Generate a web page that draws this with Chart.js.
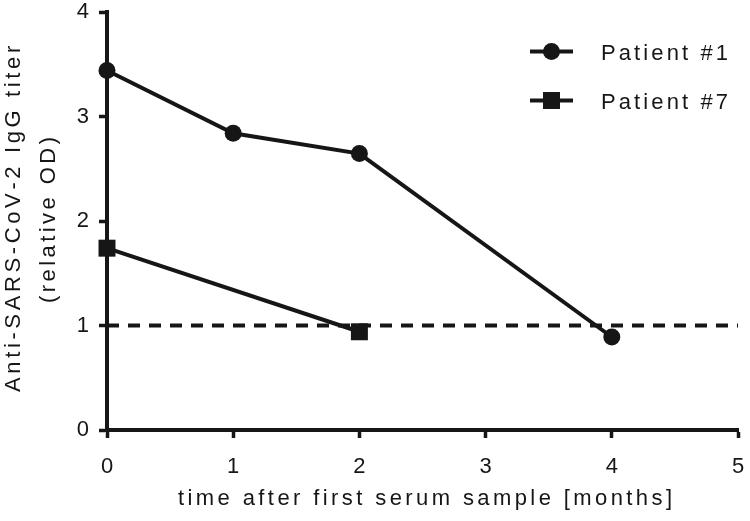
<!DOCTYPE html>
<html>
<head>
<meta charset="utf-8">
<script src="https://cdn.jsdelivr.net/npm/chart.js@4.4.0/dist/chart.umd.min.js"></script>
<style>
  html, body { margin: 0; padding: 0; background: #fff; }
  #wrap { width: 750px; height: 521px; }
</style>
</head>
<body>
<div id="wrap"><canvas id="titerChart"></canvas></div>
<script>
// Data
const months1 = [0, 1, 2, 4];
const titer1 = [3.44, 2.84, 2.645, 0.89];
const months7 = [0, 2];
const titer7 = [1.74, 0.94];
const cutoffMonths = [0, 5];
const cutoffTiter = [1, 1];
const xTicks = [0, 1, 2, 3, 4, 5];
const yTicks = [0, 1, 2, 3, 4];
const seriesNames = ["Patient #1", "Patient #7"];
const xTitle = "time after first serum sample [months]";
const yTitle = ["Anti-SARS-CoV-2 IgG titer", "(relative OD)"];

const ink = "#161616";
const family = "'Liberation Sans', Arial, sans-serif";

function toPoints(xs, ys) {
  return xs.map((x, i) => ({ x: x, y: ys[i] }));
}

// draw text char by char, spreading it over a given width (the figure is letter-spaced)
function spacedText(ctx, text, left, y, width) {
  const natural = ctx.measureText(text).width;
  const gap = (width - natural) / (text.length - 1);
  let x = left;
  for (const ch of text) {
    ctx.fillText(ch, x, y);
    x += ctx.measureText(ch).width + gap;
  }
}

// axis titles + legend, drawn by hand because of the letter spacing
const decorations = {
  id: "decorations",
  afterDraw(chart) {
    const ctx = chart.ctx;
    ctx.save();
    ctx.fillStyle = ink;
    ctx.strokeStyle = ink;
    ctx.textBaseline = "alphabetic";
    ctx.textAlign = "left";
    ctx.font = "22px " + family;

    // x title
    spacedText(ctx, xTitle, 178, 505, 494);

    // y title, two rotated lines
    ctx.save();
    ctx.translate(20, 220);
    ctx.rotate(-Math.PI / 2);
    spacedText(ctx, yTitle[0], -172, 0, 345);
    ctx.restore();
    ctx.save();
    ctx.translate(55, 220);
    ctx.rotate(-Math.PI / 2);
    spacedText(ctx, yTitle[1], -83, 0, 166);
    ctx.restore();

    // legend
    const rows = [51.5, 100.5];
    chart.data.datasets.slice(0, 2).forEach((ds, i) => {
      const y = rows[i];
      ctx.lineWidth = 4;
      ctx.beginPath();
      ctx.moveTo(530, y);
      ctx.lineTo(573, y);
      ctx.stroke();
      ctx.beginPath();
      if (ds.pointStyle === "circle") {
        ctx.arc(551.5, y, ds.pointRadius, 0, Math.PI * 2);
        ctx.fill();
      } else {
        const half = ds.pointRadius * Math.SQRT1_2;
        ctx.fillRect(551.5 - half, y - half, half * 2, half * 2);
      }
      spacedText(ctx, seriesNames[i], 601, y + 8, 127);
    });
    ctx.restore();
  },
};

const tickGrid = {
  drawOnChartArea: false,
  drawTicks: true,
  tickLength: 8,
  tickWidth: 3.5,
  tickColor: ink,
};

const config = {
  type: "line",
  data: {
    datasets: [
      {
        label: seriesNames[0],
        data: toPoints(months1, titer1),
        borderColor: ink,
        borderWidth: 4,
        pointStyle: "circle",
        pointRadius: 8.5,
        pointBackgroundColor: ink,
        pointBorderWidth: 0,
        clip: false,
      },
      {
        label: seriesNames[1],
        data: toPoints(months7, titer7),
        borderColor: ink,
        borderWidth: 4,
        pointStyle: "rect",
        pointRadius: 12,
        pointBackgroundColor: ink,
        pointBorderWidth: 0,
        clip: false,
      },
      {
        label: "cutoff",
        data: toPoints(cutoffMonths, cutoffTiter),
        borderColor: ink,
        borderWidth: 4,
        borderDash: [12, 9],
        pointRadius: 0,
        clip: false,
      },
    ],
  },
  options: {
    responsive: true,
    maintainAspectRatio: false,
    animation: false,
    events: [],
    layout: { padding: { top: 10, right: 11, left: 0, bottom: 0 } },
    plugins: {
      legend: { display: false },
      tooltip: { enabled: false },
    },
    scales: {
      x: {
        type: "linear",
        min: 0,
        max: 5,
        afterBuildTicks: (s) => { s.ticks = xTicks.map((v) => ({ value: v })); },
        afterFit: (s) => {
          s.height = 91;
          s.paddingLeft = 0;
          s.paddingRight = 0;
        },
        grid: tickGrid,
        border: { color: ink, width: 4 },
        ticks: {
          color: ink,
          font: { family: family, size: 22 },
          padding: 16,
          maxRotation: 0,
        },
      },
      y: {
        min: 0,
        max: 4,
        afterBuildTicks: (s) => { s.ticks = yTicks.map((v) => ({ value: v })); },
        afterFit: (s) => {
          s.width = 107;
          s.paddingTop = 0;
          s.paddingBottom = 0;
        },
        grid: tickGrid,
        border: { color: ink, width: 4 },
        ticks: {
          color: ink,
          font: { family: family, size: 22 },
          padding: 10,
        },
      },
    },
  },
  plugins: [decorations],
};

const titerChart = new Chart(document.getElementById("titerChart"), config);
</script>
</body>
</html>
